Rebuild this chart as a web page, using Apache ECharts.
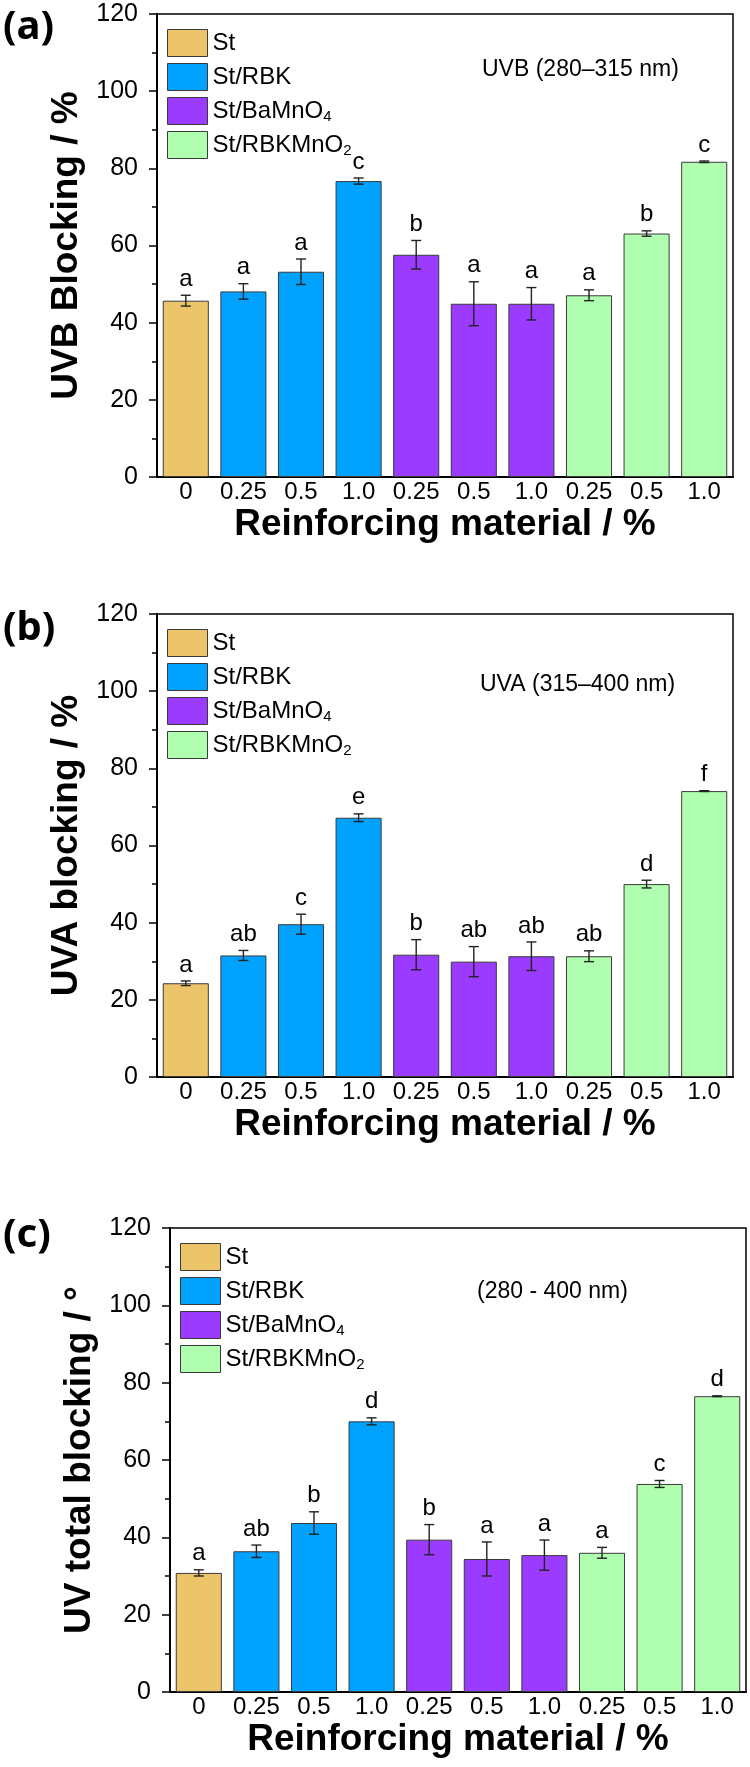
<!DOCTYPE html>
<html>

<head>
    <meta charset="utf-8">
    <script src="https://cdn.jsdelivr.net/npm/echarts@6/dist/echarts.min.js"></script>
    <style>
        body { margin: 0; background: #fff; }
    </style>
</head>

<body>
    <div id="main" style="width: 750px;height:1767px;"></div>
    <script type="text/javascript">
        var myChart = echarts.init(document.getElementById('main'));

        // x categories (reinforcing material %) and the group each bar belongs to
        const categories = ['0', '0.25', '0.5', '1.0', '0.25', '0.5', '1.0', '0.25', '0.5', '1.0'];
        const groupNames = ['St', 'St/RBK', 'St/BaMnO4', 'St/RBKMnO2'];
        const groupOf = [0, 1, 1, 1, 2, 2, 2, 3, 3, 3];
        const groupColors = ['#ECC56B', '#00A2FF', '#9B3BFF', '#B0FFB0'];
        const yTicks = [0, 20, 40, 60, 80, 100, 120];

        // (a) UVB blocking
        const uvbValues = [45.7, 48.1, 53.2, 76.7, 57.6, 44.9, 44.9, 47.1, 63.1, 81.7];
        const uvbErrors = [1.4, 2.0, 3.3, 0.8, 3.7, 5.7, 4.2, 1.4, 0.7, 0.2];
        const uvbLetters = ['a', 'a', 'a', 'c', 'b', 'a', 'a', 'a', 'b', 'c'];

        // (b) UVA blocking
        const uvaValues = [24.3, 31.5, 39.6, 67.2, 31.7, 29.9, 31.3, 31.3, 50.0, 74.1];
        const uvaErrors = [0.6, 1.3, 2.6, 1.0, 3.9, 3.9, 3.7, 1.4, 1.0, 0.1];
        const uvaLetters = ['a', 'ab', 'c', 'e', 'b', 'ab', 'ab', 'ab', 'd', 'f'];

        // (c) UV total blocking
        const uvtValues = [30.8, 36.4, 43.7, 70.0, 39.4, 34.4, 35.4, 36.0, 53.8, 76.5];
        const uvtErrors = [0.8, 1.6, 2.9, 0.9, 3.9, 4.4, 3.9, 1.4, 0.9, 0.1];
        const uvtLetters = ['a', 'ab', 'b', 'd', 'b', 'a', 'a', 'a', 'c', 'd'];

        const FONT = "'Liberation Sans', Arial, sans-serif";

        const panels = [
            { values: uvbValues, errors: uvbErrors, letters: uvbLetters, yName: 'UVB Blocking / %',
              note: 'UVB (280–315 nm)', tag: '(a)', grid: { left: 157, top: 14, width: 576, height: 463 },
              noteX: 482, noteY: 70, tagY: 28 },
            { values: uvaValues, errors: uvaErrors, letters: uvaLetters, yName: 'UVA blocking / %',
              note: 'UVA (315–400 nm)', tag: '(b)', grid: { left: 157, top: 614, width: 576, height: 463 },
              noteX: 480, noteY: 685, tagY: 629 },
            { values: uvtValues, errors: uvtErrors, letters: uvtLetters, yName: 'UV total blocking / °',
              note: '(280 - 400 nm)', tag: '(c)', grid: { left: 170, top: 1228, width: 576, height: 464 },
              noteX: 477, noteY: 1292, tagY: 1236 }
        ];

        const grids = [], xAxes = [], yAxes = [], series = [], legends = [], texts = [];

        panels.forEach((p, k) => {
            grids.push(Object.assign({ show: true, borderColor: '#000', borderWidth: 1.5, backgroundColor: 'transparent' }, p.grid));

            xAxes.push({
                type: 'category', gridIndex: k, data: categories,
                axisLine: { lineStyle: { color: '#000', width: 2 } },
                axisTick: { show: false },
                axisLabel: { interval: 0, fontSize: 24, color: '#000', margin: 3, fontFamily: FONT },
                name: 'Reinforcing material / %', nameLocation: 'middle', nameGap: 29,
                nameTextStyle: { fontSize: 37, fontWeight: 'bold', color: '#000', fontFamily: FONT }
            });

            yAxes.push({
                type: 'value', gridIndex: k, min: yTicks[0], max: yTicks[yTicks.length - 1], interval: 20,
                axisLine: { show: true, lineStyle: { color: '#000', width: 2 } },
                axisTick: { show: true, inside: false, length: 8, lineStyle: { color: '#000', width: 1.5 } },
                minorTick: { show: true, splitNumber: 2, length: 5, lineStyle: { color: '#000', width: 1.5 } },
                splitLine: { show: false },
                axisLabel: { fontSize: 25, color: '#000', margin: 19, fontFamily: FONT },
                name: p.yName, nameLocation: 'middle', nameGap: 67,
                nameTextStyle: { fontSize: 37, fontWeight: 'bold', color: '#000', fontFamily: FONT }
            });

            groupNames.forEach((g, gi) => {
                series.push({
                    name: g, type: 'bar', xAxisIndex: k, yAxisIndex: k,
                    barWidth: '80%', barGap: '-100%',
                    itemStyle: { color: groupColors[gi], borderColor: '#3a3a3a', borderWidth: 1 },
                    data: p.values.map((v, i) => groupOf[i] === gi ? v : '-')
                });
            });

            // error bars and significance letters
            series.push({
                type: 'custom', xAxisIndex: k, yAxisIndex: k, z: 5, silent: true,
                data: p.values.map((v, i) => [i, v, p.errors[i]]),
                renderItem: function (params, api) {
                    const i = api.value(0), v = api.value(1), e = api.value(2);
                    const hi = api.coord([i, v + e]);
                    const lo = api.coord([i, v - e]);
                    const cap = 5;
                    const st = { stroke: '#222', lineWidth: 1.4 };
                    return {
                        type: 'group', children: [
                            { type: 'line', shape: { x1: hi[0], y1: hi[1], x2: lo[0], y2: lo[1] }, style: st },
                            { type: 'line', shape: { x1: hi[0] - cap, y1: hi[1], x2: hi[0] + cap, y2: hi[1] }, style: st },
                            { type: 'line', shape: { x1: lo[0] - cap, y1: lo[1], x2: lo[0] + cap, y2: lo[1] }, style: st },
                            {
                                type: 'text', x: hi[0], y: hi[1] - 4,
                                style: {
                                    text: p.letters[params.dataIndex], fontSize: 24, fontFamily: FONT, fill: '#000',
                                    align: 'center', verticalAlign: 'bottom', textAlign: 'center', textVerticalAlign: 'bottom'
                                }
                            }
                        ]
                    };
                }
            });

            legends.push({
                data: groupNames, orient: 'vertical', left: p.grid.left + 10, top: p.grid.top + 15,
                padding: 0, itemWidth: 40, itemHeight: 27, itemGap: 6, icon: 'rect',
                selectedMode: false,
                itemStyle: { borderColor: '#3a3a3a', borderWidth: 1 },
                formatter: name => name.replace(/O(\d)$/, 'O{sub|$1}'),
                textStyle: {
                    fontSize: 24, color: '#000', fontFamily: FONT, lineHeight: 26,
                    rich: { sub: { fontSize: 15, fontFamily: FONT, color: '#000', verticalAlign: 'bottom', lineHeight: 12 } }
                }
            });

            texts.push({
                type: 'text', x: p.noteX, y: p.noteY,
                style: { text: p.note, fontSize: 23, fontFamily: FONT, fill: '#000',
                    textVerticalAlign: 'middle', verticalAlign: 'middle' }
            });
            texts.push({
                type: 'text', x: 3, y: p.tagY,
                style: { text: p.tag, fontSize: 40, fontWeight: 'bold', fontFamily: "'Noto Sans', 'Open Sans', sans-serif",
                    fill: '#000', textVerticalAlign: 'middle', verticalAlign: 'middle' }
            });
        });

        option = {
            backgroundColor: '#fff',
            animation: false,
            grid: grids,
            xAxis: xAxes,
            yAxis: yAxes,
            legend: legends,
            graphic: texts,
            series: series
        };

        myChart.setOption(option);
    </script>
</body>

</html>
